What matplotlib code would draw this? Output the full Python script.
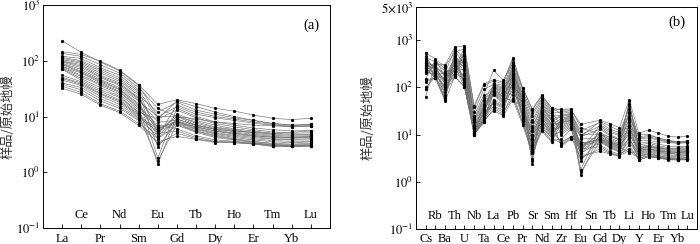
import numpy as np
import matplotlib
matplotlib.use("Agg")
import matplotlib.pyplot as plt
import matplotlib.transforms as mtransforms

plt.rcParams['font.family'] = ['Liberation Serif', 'Noto Sans CJK SC']
plt.rcParams['mathtext.fontset'] = 'stix'

# element order on the two x axes
ree_elements = ["La", "Ce", "Pr", "Nd", "Sm", "Eu", "Gd", "Tb", "Dy", "Ho", "Er", "Tm", "Yb", "Lu"]
spider_elements = ["Cs", "Rb", "Ba", "Th", "U", "Nb", "Ta", "La", "Ce", "Pb", "Pr", "Sr", "Nd", "Sm",
                   "Zr", "Hf", "Eu", "Sn", "Gd", "Tb", "Dy", "Li", "Y", "Ho", "Er", "Tm", "Yb", "Lu"]

# primitive-mantle normalised values, one entry per sample (26 samples)
la = [228, 145, 135, 120, 115, 110, 105, 100, 98, 95, 90, 88, 85, 80, 78, 75, 72, 70, 55, 50, 48, 45, 40, 38, 35, 32]
ce = [141, 130, 120, 110, 100, 95, 90, 85, 80, 75, 70, 65, 62, 60, 55, 52, 48, 45, 42, 40, 38, 36, 33, 30, 27, 25]
pr = [95, 98, 85, 75, 70, 65, 60, 55, 52, 50, 46, 44, 42, 40, 38, 36, 33, 30, 28, 26, 25, 23, 21, 19, 17, 16]
nd = [66, 68, 60, 55, 50, 46, 43, 40, 38, 36, 33, 31, 30, 28, 27, 25, 23, 22, 20, 19, 18, 16.5, 15, 14, 12.5, 11.8]
sm = [36, 37, 33, 30, 28, 26, 24, 22, 21, 20, 19, 17, 16, 15, 14, 13, 12, 11.5, 11, 10.5, 10, 9.5, 9, 8.5, 7.5, 6.9]
eu = [10, 16.5, 14, 9, 5, 2.8, 12, 6, 1.8, 8, 10, 5.5, 4.5, 7, 1.4, 6.5, 9, 5, 4, 1.6, 6, 5.5, 4.5, 3.2, 4, 3.5]
gd = [15, 20, 10, 19, 11, 8.0, 18, 8, 14, 8.5, 10, 7.5, 16, 6, 10.5, 7.8, 13, 5.5, 9, 7.2, 8.2, 10, 9, 5, 7, 4.4]
tb = [11, 17, 7, 15, 8.5, 6.0, 13, 6.5, 10, 6.5, 8, 5.5, 12, 4.5, 7.5, 5.8, 9.5, 4.2, 6.8, 5.4, 6.2, 9, 7, 4, 5.2, 3.9]
dy = [9.5, 14, 6, 12, 7, 5, 11, 5.5, 8, 5.5, 6.5, 4.6, 10, 3.8, 6.3, 4.8, 7.5, 3.6, 5.8, 4.4, 5.2, 8, 6, 3.5, 4.2, 3.4]
ho = [8.5, 12.5, 5.3, 10, 6, 4.4, 9.5, 5, 7, 4.8, 5.8, 4, 9, 3.6, 5.6, 4.2, 6.5, 3.5, 5, 3.9, 4.6, 7.5, 5.5, 3.4, 3.8, 3.4]
er = [7.6, 10.6, 4.8, 8.5, 5.5, 4, 8.5, 4.5, 6.2, 4.4, 5.2, 3.6, 8, 3.3, 5, 3.8, 5.8, 3.3, 4.6, 3.5, 4.2, 7, 5.2, 3.2, 3.4, 3.2]
tm = [7, 9.3, 4.4, 7.5, 5, 3.7, 7.5, 4.3, 5.8, 4, 4.8, 3.3, 7.2, 3.0, 4.6, 3.5, 5.3, 3.1, 4.2, 3.2, 3.9, 6.8, 5, 3.0, 3.1, 2.9]
yb = [6.6, 8.8, 4.2, 7.0, 4.8, 3.6, 7.0, 4.2, 5.5, 3.9, 4.6, 3.2, 6.8, 2.9, 4.4, 3.4, 5.0, 3.0, 4.1, 3.1, 3.8, 6.5, 5.2, 2.9, 3.0, 2.9]
lu = [6.7, 9.3, 4.3, 7.2, 4.8, 3.6, 7.2, 4.4, 5.6, 4.0, 4.7, 3.3, 7.0, 2.9, 4.5, 3.5, 5.1, 3.1, 4.2, 3.2, 3.8, 6.8, 5.5, 3.0, 3.0, 3.0]

cs = [300, 530, 200, 450, 150, 380, 420, 90, 350, 250, 63, 400, 280, 320, 140, 360, 230, 270, 100, 290, 210, 240, 130, 330, 220, 260]
rb = [250, 400, 300, 220, 380, 175, 350, 200, 270, 155, 330, 240, 185, 290, 160, 260, 210, 320, 165, 230, 190, 280, 158, 170, 180, 160]
ba = [200, 160, 300, 120, 280, 60, 250, 90, 180, 55, 220, 140, 100, 170, 50, 130, 150, 70, 110, 65, 200, 120, 80, 160, 100, 60]
th = [650, 240, 700, 200, 550, 600, 180, 520, 220, 480, 210, 450, 190, 420, 175, 400, 230, 380, 170, 350, 260, 320, 168, 300, 250, 280]
u = [400, 700, 760, 150, 650, 300, 600, 120, 550, 250, 500, 200, 450, 110, 380, 350, 180, 320, 100, 280, 230, 160, 105, 140, 130, 102]
nb = [25, 40, 38, 12, 30, 11, 22, 15, 20, 10.5, 18, 13, 16, 10, 14, 12, 13, 11, 10, 12, 11, 15, 10.5, 11, 10, 12]
ta = [70, 118, 110, 30, 90, 25, 60, 35, 55, 20, 50, 40, 45, 18, 42, 33, 38, 22, 19, 28, 24, 26, 21, 30, 18.5, 20]
pb = [320, 420, 400, 160, 350, 100, 300, 200, 280, 70, 260, 140, 240, 52, 220, 180, 190, 120, 90, 170, 130, 150, 110, 60, 80, 55]
sr = [33, 35, 28, 25, 20, 3.0, 18, 15, 2.4, 14, 12, 10, 9, 8, 4.5, 7, 12, 6, 5.5, 2.8, 10, 8, 6, 4, 5, 4]
zr = [28, 33, 34, 15, 30, 10, 26, 13, 25, 5.7, 24, 17, 22, 6, 20, 14, 19, 7, 18, 11, 16, 20, 12, 6.5, 8, 18]
hf = [30, 33, 35, 19, 32, 14, 28, 17, 27, 8, 26, 21, 25, 8.5, 24, 18, 23, 9, 22, 15, 20, 25, 16, 9, 13, 20]
li = [40, 55, 50, 14, 45, 8, 35, 12, 30, 4.1, 28, 16, 25, 5, 22, 11, 20, 4.5, 18, 8.5, 15, 12, 10, 6, 7, 9]
y = [8, 10.6, 4.8, 10, 5.5, 4, 9, 4.5, 6.5, 4.4, 5.2, 3.6, 8.5, 3.2, 5, 3.8, 6, 3.1, 4.6, 3.5, 4.2, 7.5, 5, 2.9, 3.4, 2.9]

# Sn was not analysed, so it has no column here
values = {"La": la, "Ce": ce, "Pr": pr, "Nd": nd, "Sm": sm, "Eu": eu, "Gd": gd, "Tb": tb, "Dy": dy,
          "Ho": ho, "Er": er, "Tm": tm, "Yb": yb, "Lu": lu, "Cs": cs, "Rb": rb, "Ba": ba, "Th": th,
          "U": u, "Nb": nb, "Ta": ta, "Pb": pb, "Sr": sr, "Zr": zr, "Hf": hf, "Li": li, "Y": y}

ylabel = "样品/原始地幔"


def draw_spider(ax, elements, inner_y, outer_y):
    n_samples = len(values[elements[0]])
    xs = [k for k, el in enumerate(elements) if el in values]
    for i in range(n_samples):
        ys = [values[el][i] for el in elements if el in values]
        ax.plot(xs, ys, color="#707070", lw=0.45, zorder=2)
        ax.plot(xs, ys, "o", color="black", ms=2.3, mew=0, zorder=3)

    ax.set_yscale("log")
    ax.set_xlim(-1, len(elements))
    ax.minorticks_off()
    ax.set_xticks(range(len(elements)))
    ax.set_xticklabels([])
    ax.tick_params(axis="x", direction="in", length=3, width=0.6, top=False)
    ax.tick_params(axis="y", direction="in", length=3, width=0.6, right=False, labelsize=9, pad=2)

    trans = mtransforms.blended_transform_factory(ax.transData, ax.transAxes)
    for k, el in enumerate(elements):
        if k % 2 == 0:
            ax.text(k, outer_y, el, transform=trans, ha="center", va="center", fontsize=9)
        else:
            ax.text(k, inner_y, el, transform=trans, ha="center", va="center", fontsize=9)

    for sp in ax.spines.values():
        sp.set_linewidth(0.7)
    ax.set_ylabel(ylabel, family=["Noto Sans CJK SC", "DejaVu Sans"], fontsize=9.5, color="#333333")


fig = plt.figure(figsize=(7, 2.44), dpi=100)

ax1 = fig.add_axes([43 / 700, 1 - 228 / 244, 287 / 700, 223 / 244])
draw_spider(ax1, ree_elements, 0.058, -0.049)
ax1.set_ylim(0.1, 1000)
ax1.set_yticks([0.1, 1, 10, 100, 1000])
ax1.set_yticklabels(["$10^{-1}$", "$10^{0}$", "$10^{1}$", "$10^{2}$", "$10^{3}$"])
ax1.yaxis.set_label_coords(-0.098, 0.5)
ax1.text(0.935, 0.91, "(a)", transform=ax1.transAxes, ha="center", va="center", fontsize=10.5)

ax2 = fig.add_axes([416 / 700, 1 - 229 / 244, 281 / 700, 222 / 244])
draw_spider(ax2, spider_elements, 0.059, -0.045)
ax2.set_ylim(0.1, 5000)
ax2.set_yticks([0.1, 1, 10, 100, 1000, 5000])
ax2.set_yticklabels(["$10^{-1}$", "$10^{0}$", "$10^{1}$", "$10^{2}$", "$10^{3}$", r"$5{\times}10^{3}$"])
ax2.yaxis.set_label_coords(-0.146, 0.5)
ax2.text(0.93, 0.93, "(b)", transform=ax2.transAxes, ha="center", va="center", fontsize=10.5)

fig.savefig("out.png", dpi=100)
